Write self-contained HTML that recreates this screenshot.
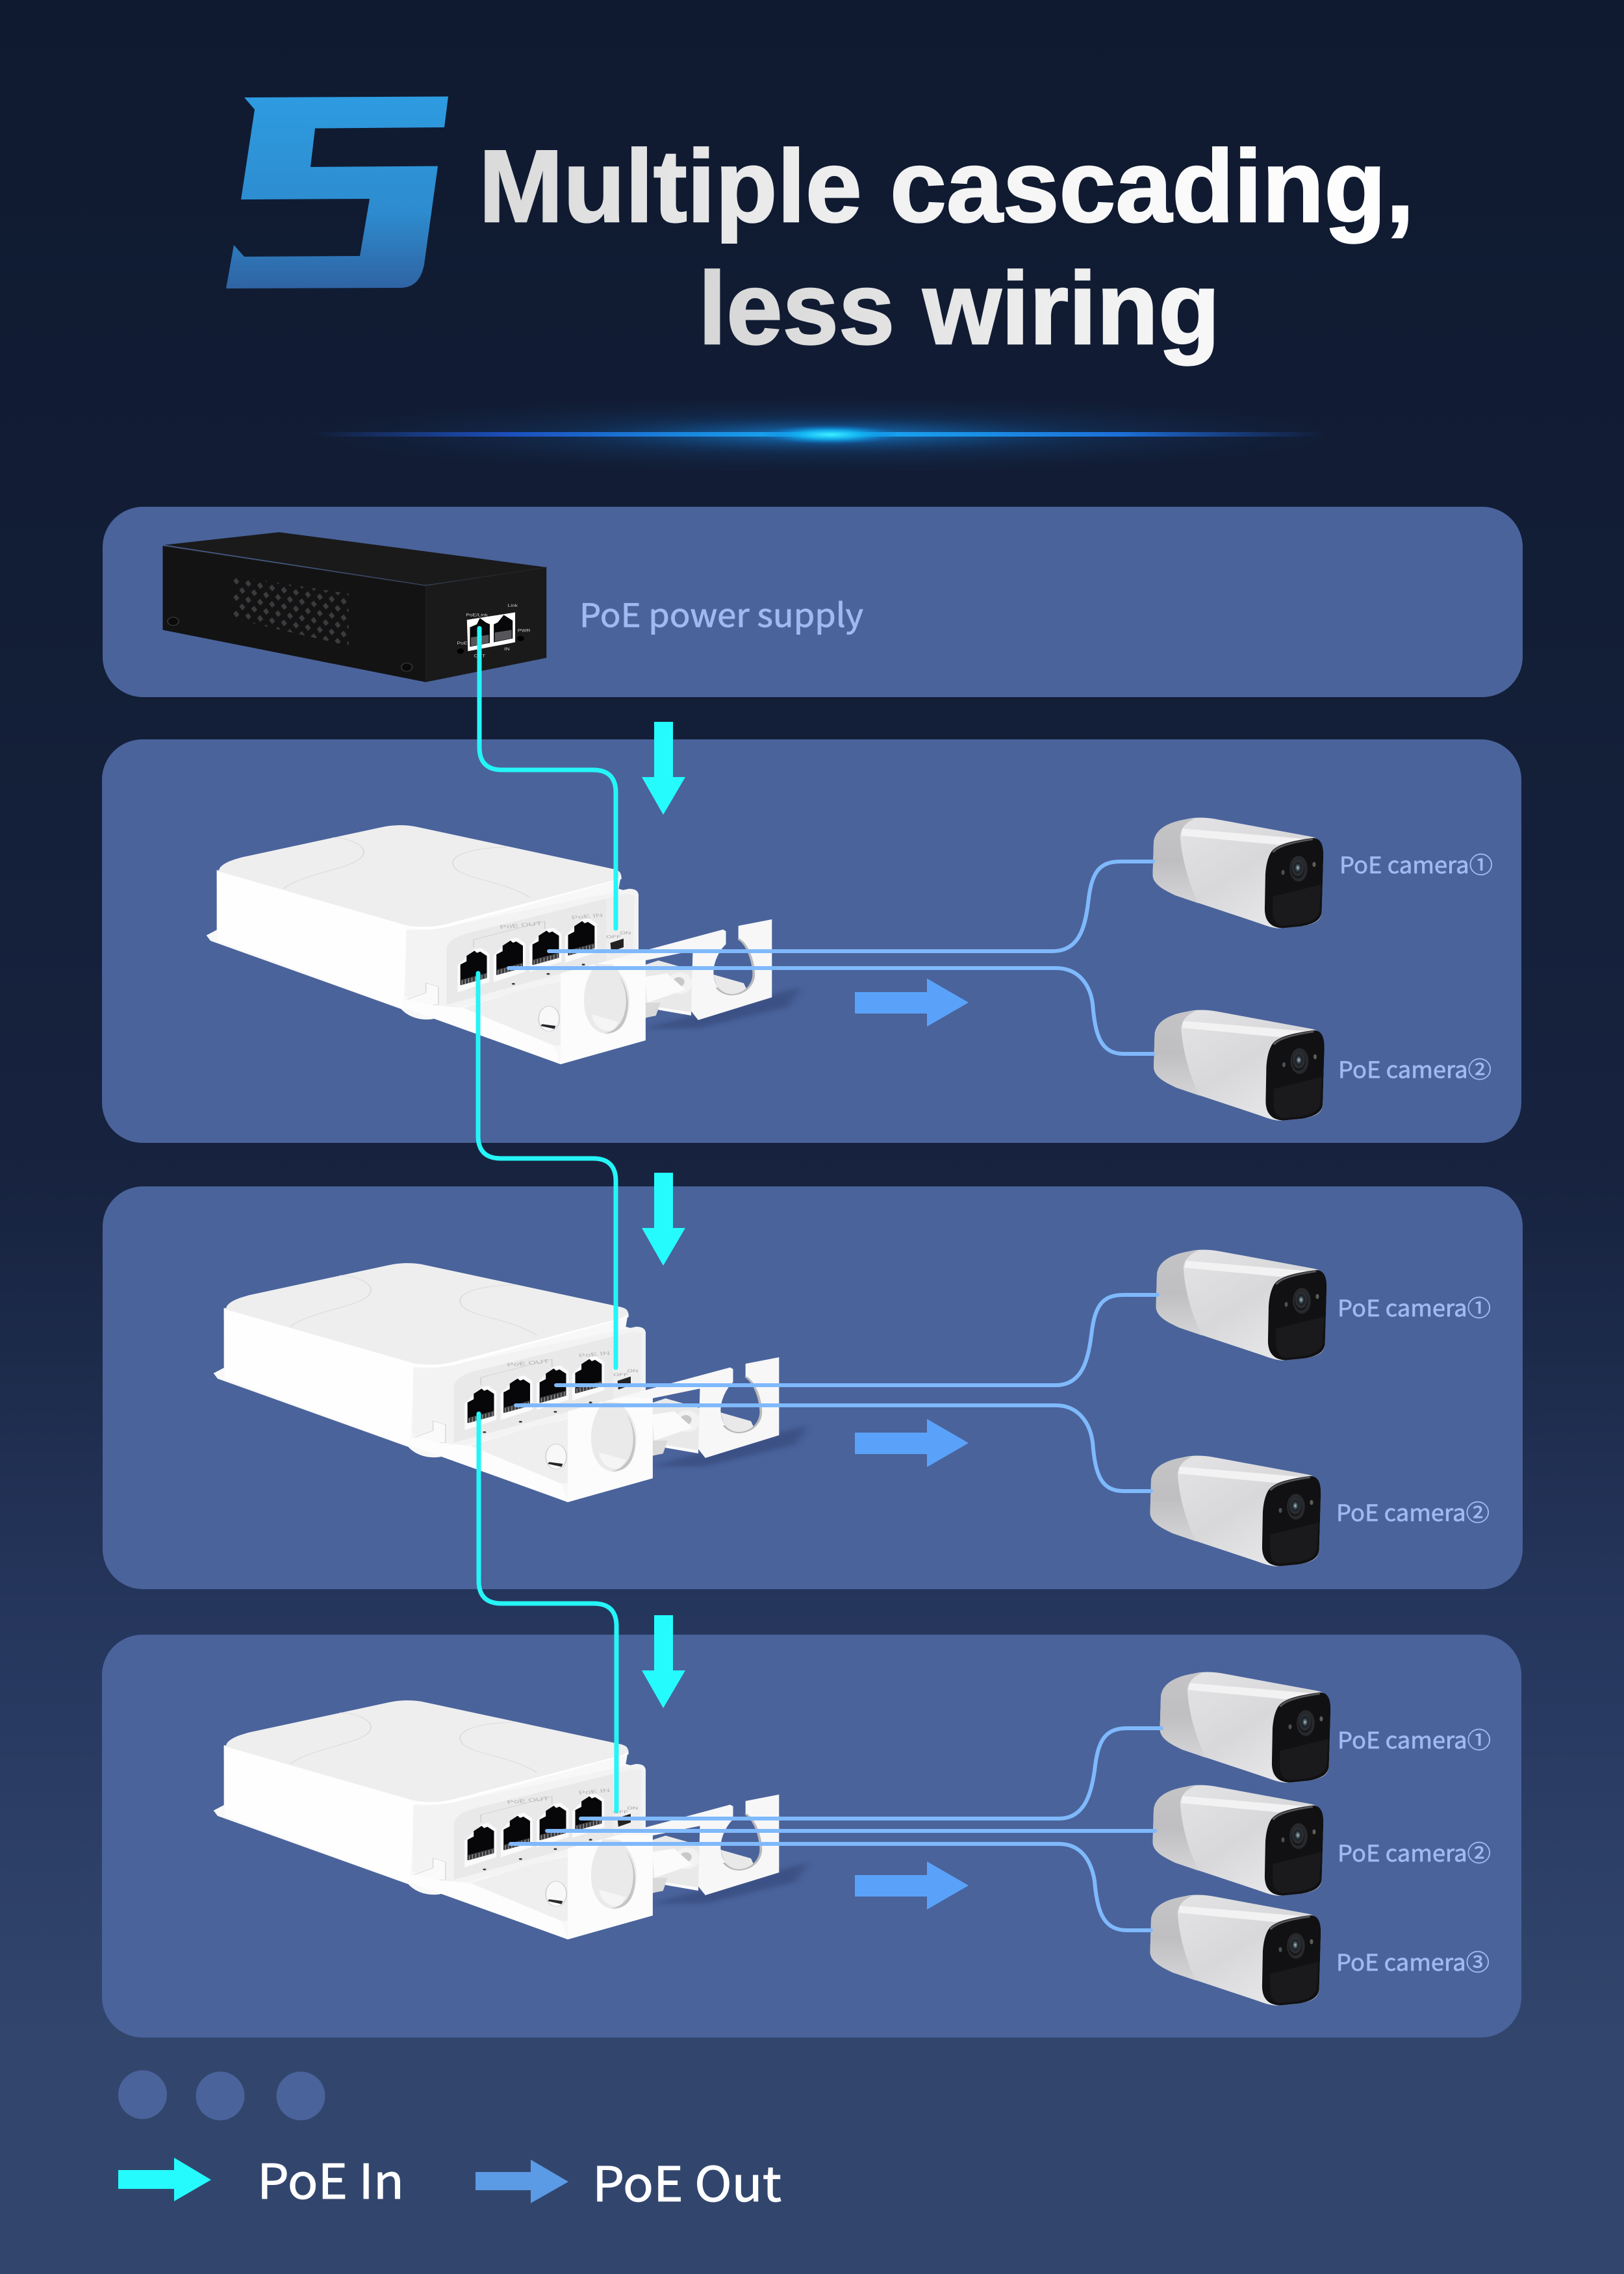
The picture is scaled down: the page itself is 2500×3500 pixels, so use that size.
<!DOCTYPE html>
<html><head><meta charset="utf-8">
<style>
html,body{margin:0;padding:0;background:#0f1a30}
svg{display:block}
.t{font-family:"Liberation Sans","Noto Sans CJK SC",sans-serif}
.n{font-family:"Noto Sans CJK SC","Liberation Sans",sans-serif}
</style></head>
<body>
<svg xmlns="http://www.w3.org/2000/svg" width="2500" height="3500" viewBox="0 0 2500 3500">
<defs>
<linearGradient id="bg" x1="0" y1="0" x2="0" y2="1">
<stop offset="0" stop-color="#0f1a30"/><stop offset=".3" stop-color="#131e37"/><stop offset=".52" stop-color="#17233f"/><stop offset=".72" stop-color="#26375e"/><stop offset=".9" stop-color="#32466d"/><stop offset="1" stop-color="#32466d"/>
</linearGradient>
<linearGradient id="five" x1="0" y1="0" x2="0" y2="1"><stop offset="0" stop-color="#2e9be0"/><stop offset=".6" stop-color="#2d8ccf"/><stop offset="1" stop-color="#2f63a3"/></linearGradient>
<linearGradient id="title" x1="0" y1="0" x2="1" y2="0"><stop offset="0" stop-color="#dadada"/><stop offset=".5" stop-color="#f4f4f4"/><stop offset="1" stop-color="#fff"/></linearGradient>
<linearGradient id="titleb" x1="0" y1="0" x2="1" y2="0"><stop offset="0" stop-color="#d6d6d6"/><stop offset="1" stop-color="#f8f8f8"/></linearGradient>
<radialGradient id="glow"><stop offset="0" stop-color="#1a9cf0" stop-opacity=".6"/><stop offset=".45" stop-color="#1468b8" stop-opacity=".28"/><stop offset="1" stop-color="#0f3060" stop-opacity="0"/></radialGradient>
<radialGradient id="core"><stop offset="0" stop-color="#3ff0ff"/><stop offset=".45" stop-color="#12b4f2" stop-opacity=".9"/><stop offset="1" stop-color="#0a6cc8" stop-opacity="0"/></radialGradient>
<linearGradient id="beam" x1="0" y1="0" x2="1" y2="0"><stop offset="0" stop-color="#1f4fb8" stop-opacity="0"/><stop offset=".2" stop-color="#1c50c0"/><stop offset=".5" stop-color="#18b0f5"/><stop offset=".8" stop-color="#1c70d8"/><stop offset="1" stop-color="#1f4fb8" stop-opacity="0"/></linearGradient>
<linearGradient id="camb" x1="0" y1="0" x2="1" y2="1"><stop offset="0" stop-color="#e6e6e8"/><stop offset=".5" stop-color="#d8d8da"/><stop offset="1" stop-color="#eeeef0"/></linearGradient>
<linearGradient id="camr" x1="0" y1="0" x2="0" y2="1"><stop offset="0" stop-color="#c4c4c6"/><stop offset=".5" stop-color="#bfbfc1"/><stop offset="1" stop-color="#d4d4d6"/></linearGradient>
<radialGradient id="lens" cx=".5" cy=".45"><stop offset="0" stop-color="#cfd8d0"/><stop offset=".18" stop-color="#5d7078"/><stop offset=".45" stop-color="#1a2028"/><stop offset=".8" stop-color="#2f3236"/><stop offset="1" stop-color="#111"/></radialGradient>
<pattern id="vent" width="24" height="44" patternUnits="userSpaceOnUse" patternTransform="translate(208,222) skewY(14)">
<polygon points="6,2 12,11 6,20 0,11" fill="#3c3c40"/><polygon points="18,24 24,33 18,42 12,33" fill="#3c3c40"/>
</pattern>
<filter id="bl" x="-30%" y="-30%" width="160%" height="160%"><feGaussianBlur stdDeviation="10"/></filter>

<g id="cam">
<path d="M345,250 C350,195 395,170 440,160 C470,150 500,152 530,158 L815,228 C845,235 855,255 857,300 L852,530 C850,570 830,580 790,590 L735,597 C710,600 690,590 665,578 L410,465 C370,440 345,420 342,385 Z" fill="url(#camb)"/>
<path d="M345,250 C350,195 395,170 440,160 C450,157 460,156 470,156 C445,170 428,190 425,225 C428,300 445,400 480,497 L410,465 C370,440 345,420 342,385 Z" fill="url(#camr)"/>
<path d="M432,197 L800,238 L720,262 L428,225 Z" fill="#f2f2f3"/>
<path d="M700,290 C712,268 745,248 825,235 C848,235 857,260 857,305 L852,530 C850,565 830,580 790,590 L735,597 C700,597 680,570 680,520 L682,380 C684,340 690,310 700,290 Z" fill="#111113"/>
<path d="M705,292 C716,272 750,254 825,240" fill="none" stroke="#55565a" stroke-width="7"/>
<path d="M704,470 L850,422 L845,530 C840,560 815,575 780,582 L735,588 C712,585 705,560 704,530 Z" fill="#1a1a1c"/>
<ellipse cx="782" cy="358" rx="27" ry="52" fill="#28292c"/>
<ellipse cx="780" cy="358" rx="20" ry="38" fill="url(#lens)"/>
<ellipse cx="735" cy="373" rx="5" ry="10" fill="#4c5052"/>
<ellipse cx="829" cy="341" rx="5" ry="10" fill="#5c5f55"/>
</g>

<g id="port">
<polygon points="-7,75 33,0 50,-8 70,20 70,150 -7,198" fill="#fafafa"/>
<path d="M0,70 L15,55 L15,30 L34,6 L40,16 L48,10 L64,30 L64,130 L0,165 Z" fill="#07070a"/>
<path d="M2,140 L64,108 L64,132 L2,165 Z" fill="#3a3a3c"/>
<path d="M4,142 V165 M12,138 V160 M20,134 V156 M28,130 V152 M36,126 V148 M44,122 V144 M52,118 V140 M60,114 V136" stroke="#9a9a9c" stroke-width="2" fill="none"/>
</g>

<g id="sw">
<path d="M1100,1110 L1400,960 L1480,920 L1450,1010 L1230,1110 Z" fill="#1c2c55" opacity=".3" filter="url(#bl)"/>
<path d="M45,680 L70,655 L70,385 L130,320 L470,180 L550,178 L1030,375 L1046,400 L1040,465 L1088,490 L1088,800 L1105,790 L1105,1165 L900,1275 L600,1062 C580,1075 540,1072 515,1020 L55,705 Z" fill="#f8f8f9"/>
<path d="M70,378 L530,628 L520,1020 L72,705 Z" fill="#fefefe"/>
<path d="M527,655 C560,660 600,655 625,640 L1065,465 C1080,465 1088,475 1088,495 L1085,790 L640,1020 L525,960 Z" fill="#f3f3f4"/>
<path d="M625,740 C630,700 650,685 680,668 L1010,510 L1010,800 L625,1000 Z" fill="#e9e9ea"/>
<path d="M1010,510 L1060,487 L1078,495 L1075,780 L1010,810 Z" fill="#eeeeef"/>
<path d="M525,980 L575,945 L575,900 L605,918 L605,1000 L525,1010 Z" fill="#fafafa" stroke="#c9c9cb" stroke-width="1.5"/>
<path d="M75,385 C75,355 100,335 130,320 L470,180 C500,168 530,170 550,178 L1030,375 C1050,385 1050,412 1030,425 L630,625 C600,640 570,645 530,635 Z" fill="#eeeeef"/>
<path d="M525,635 C570,648 600,640 630,625 L1030,425 C1042,417 1048,405 1046,395 L1047,420 L640,635 C600,655 565,655 525,647 Z" fill="#fff"/>
<path d="M230,465 C290,380 430,370 425,290 C420,255 385,230 350,228" fill="none" stroke="#d8d8da" stroke-width="2.5"/>
<path d="M825,505 C760,420 640,420 640,345 C640,300 700,275 770,272" fill="none" stroke="#d8d8da" stroke-width="2.5"/>
<path d="M690,735 V700 L862,615 V650" fill="none" stroke="#c0c0c2" stroke-width="1.5"/>
<text x="755" y="650" font-size="24" fill="#b4b4b6" class="t" transform="rotate(-10 755 650)">PoE OUT</text>
<text x="928" y="607" font-size="24" fill="#b4b4b6" class="t" transform="rotate(-10 928 607)">PoE IN</text>
<text x="1010" y="693" font-size="18" fill="#a4a4a6" class="t">OFF</text>
<text x="1043" y="675" font-size="18" fill="#a4a4a6" class="t">ON</text>
<use href="#port" transform="translate(658,745)"/>
<use href="#port" transform="translate(745,698)"/>
<use href="#port" transform="translate(832,652)"/>
<use href="#port" transform="translate(918,608)"/>
<circle cx="699" cy="952" r="4" fill="#333"/><circle cx="786" cy="904" r="4" fill="#333"/><circle cx="870" cy="858" r="4" fill="#333"/><circle cx="955" cy="815" r="4" fill="#333"/>
<path d="M1020,715 L1052,695 L1052,735 L1022,755 Z" fill="#222"/>

<!-- connector interior between plates -->
<polygon points="1104,816 1136,796 1219,841 1215,1045 1135,1011 1100,1071" fill="#e9e9ea"/>
<polygon points="1135,1011 1215,1035 1215,1050 1130,1022" fill="#fafafa"/>
<polygon points="1104,991 1141,991 1130,1051 1104,1061" fill="#d9d9da"/>
<ellipse cx="1188" cy="901" rx="30" ry="50" fill="#f2f2f3"/>
<ellipse cx="1185" cy="895" rx="14" ry="22" fill="#c8c8ca"/>
<polygon points="1104,871 1157,856 1201,931 1109,991" fill="#fbfbfb"/>

<!-- rear plate with keyhole -->
<path d="M1025,790 L1292,653 L1299,661 L1299,721 C1285,745 1269,800 1269,851 C1269,900 1285,954 1312,954 C1345,954 1368,905 1366,851 C1364,790 1350,720 1329,696 L1329,636 L1410,606 L1410,966 L1232,1071 L1215,1030 L1219,751 L1104,796 Z" fill="#f7f7f8"/>
<path d="M1269,861 L1342,901 L1348,925 C1335,950 1325,954 1312,954 C1290,954 1275,925 1269,861 Z" fill="#e9e9ea"/>
<path d="M1329,696 C1350,720 1364,790 1366,851 C1368,905 1345,954 1312,954 C1298,954 1285,940 1277,921" fill="none" stroke="#b9b9bb" stroke-width="6"/>

<!-- front bracket -->
<path d="M525,975 L600,1005 L665,1015 L885,1190 L900,1275 L515,1010 Z" fill="#fdfdfd"/>
<path d="M665,1015 L820,925 L1000,850 L1030,1180 L885,1190 Z" fill="#efeff0"/>
<ellipse cx="872" cy="1065" rx="25" ry="58" fill="#f8f8f8" stroke="#c8c8ca" stroke-width="2"/>
<path d="M855,1090 L888,1098 L885,1112 L852,1098 Z" fill="#26262a"/>
<path d="M900,855 L985,812 L1030,790 L1105,795 L1105,1165 L900,1275 Z" fill="#fcfcfc"/>
<path d="M985,812 C960,880 950,960 960,1040 C970,1100 985,1130 1012,1135 C1050,1130 1066,1060 1066,980 C1066,920 1050,860 1025,815 Z" fill="#eaeaeb"/>
<path d="M975,1045 L1040,1080 L1028,1118 C1000,1130 980,1100 975,1045 Z" fill="#f5f5f6"/>
<path d="M1042,870 C1065,930 1068,1010 1055,1075 C1045,1120 1025,1135 1005,1133 C1040,1120 1058,1060 1058,980 C1058,930 1050,900 1042,870 Z" fill="#c4c4c6"/>
</g>

<g id="psu">
<polygon points="70,137 300,103 838,197 595,245" fill="#1a1a1b"/>
<polygon points="66,140 595,247 595,505 66,365" fill="#131314"/>
<polygon points="595,247 838,197 838,440 595,505" fill="#1a1a1b"/>
<path d="M66,140 L595,247 L838,197" fill="none" stroke="#262628" stroke-width="2"/>
<polygon points="208,220 440,268 440,408 208,335" fill="url(#vent)"/>
<circle cx="87" cy="342" r="11" fill="#0a0a0a" stroke="#3a3a3c" stroke-width="2"/>
<circle cx="557" cy="465" r="11" fill="#0a0a0a" stroke="#3a3a3c" stroke-width="2"/>
<polygon points="678,338 775,318 775,398 680,422" fill="#fff"/>
<path d="M684,358 L698,350 L704,333 L716,345 L724,350 L724,400 L684,410 Z" fill="#08080a"/>
<path d="M732,350 L740,345 L752,325 L764,335 L770,340 L770,388 L732,398 Z" fill="#08080a"/>
<path d="M686,385 L722,378 V400 L686,408 Z M734,372 L768,365 V388 L734,396 Z" fill="#55555a"/>
<circle cx="665" cy="422" r="7" fill="#000"/><circle cx="786" cy="388" r="7" fill="#000"/>
<text x="676" y="328" font-size="11" fill="#ccc" class="t">PoE/Link</text>
<text x="760" y="303" font-size="11" fill="#ccc" class="t">Link</text>
<text x="780" y="370" font-size="11" fill="#ccc" class="t">PWR</text>
<text x="658" y="404" font-size="11" fill="#ccc" class="t">PoE</text>
<text x="692" y="438" font-size="11" fill="#ccc" class="t">OUT</text>
<text x="753" y="420" font-size="11" fill="#ccc" class="t">IN</text>
</g>
</defs>

<rect width="2500" height="3500" fill="url(#bg)"/>

<!-- "5" numeral -->
<path d="M376,150 L690,148.5 L684,196 L485,197.5 L478,257 L674,255.6 L653,407 C648,432 636,443 616,443 L348,444 L360,377 L376,395 L554,394 L569,306 L371,307 L392,168.5 Z" fill="url(#five)"/>

<text x="737" y="341" class="t" font-weight="700" font-size="158" fill="url(#title)" stroke="url(#title)" stroke-width="2.5" textLength="1440" lengthAdjust="spacingAndGlyphs">Multiple cascading,</text>
<text x="1075" y="529" class="t" font-weight="700" font-size="158" fill="url(#titleb)" stroke="url(#titleb)" stroke-width="2.5" textLength="803" lengthAdjust="spacingAndGlyphs">less wiring</text>

<!-- flare -->
<ellipse cx="1275" cy="669" rx="800" ry="58" fill="url(#glow)" opacity=".75"/>
<ellipse cx="1275" cy="669" rx="420" ry="30" fill="url(#glow)"/>
<rect x="480" y="665" width="1560" height="7" fill="url(#beam)"/>
<ellipse cx="1278" cy="669" rx="105" ry="15" fill="url(#core)"/>

<!-- panels -->
<rect x="158" y="780" width="2186" height="293" rx="62" fill="#4a639b"/>
<rect x="157" y="1138" width="2185" height="621" rx="62" fill="#4a639b"/>
<rect x="158" y="1826" width="2186" height="620" rx="62" fill="#4a639b"/>
<rect x="157" y="2516" width="2185" height="620" rx="62" fill="#4a639b"/>

<use href="#psu" transform="translate(200,760) scale(.7652,.574)"/>
<text x="892" y="965" class="n" font-size="50" fill="#9fb9f2" stroke="#9fb9f2" stroke-width=".8" textLength="437" lengthAdjust="spacingAndGlyphs">PoE power supply</text>

<!-- switches -->
<use href="#sw" transform="translate(289,1213) scale(.6378,.3333)"/>
<use href="#sw" transform="translate(300,1887) scale(.6378,.3333)"/>
<use href="#sw" transform="translate(300,2560) scale(.6378,.3333)"/>

<!-- cameras -->
<use href="#cam" transform="translate(1600,1200) scale(.5102,.3827)"/>
<use href="#cam" transform="translate(1601.5,1496) scale(.5102,.3827)"/>
<use href="#cam" transform="translate(1605,1865) scale(.5102,.3827)"/>
<use href="#cam" transform="translate(1596,2182) scale(.5102,.3827)"/>
<use href="#cam" transform="translate(1611,2515) scale(.5102,.3827)"/>
<use href="#cam" transform="translate(1600,2689) scale(.5102,.3827)"/>
<use href="#cam" transform="translate(1596,2858) scale(.5102,.3827)"/>

<!-- PoE out lines -->
<g fill="none" stroke="#7fb9fc" stroke-width="6" stroke-linecap="round">
<path d="M845,1464 H1620 C1660,1464 1670,1430 1675,1390 C1680,1345 1690,1326 1725,1326 H1775"/>
<path d="M783,1490 H1625 C1660,1490 1678,1515 1682,1545 C1686,1595 1695,1622 1730,1622 H1775"/>
<path d="M856,2132 H1625 C1665,2132 1675,2095 1680,2055 C1685,2012 1695,1993 1730,1993 H1782"/>
<path d="M794,2163 H1625 C1660,2163 1678,2190 1682,2220 C1686,2270 1695,2295 1730,2295 H1772"/>
<path d="M894,2799 H1630 C1670,2799 1680,2760 1685,2725 C1690,2680 1700,2660 1735,2660 H1788"/>
<path d="M842,2818 H1778"/>
<path d="M786,2838 H1630 C1665,2838 1680,2865 1685,2895 C1689,2945 1700,2971 1735,2971 H1772"/>
</g>

<!-- PoE in lines -->
<g fill="none" stroke="#25f5f7" stroke-width="7" stroke-linecap="round">
<path d="M738,967 V1150 Q738,1185 773,1185 H913 Q948,1185 948,1220 V1429"/>
<path d="M736,1498 V1748 Q736,1783 771,1783 H913 Q948,1783 948,1818 V2105"/>
<path d="M737,2176 V2433 Q737,2468 772,2468 H914 Q949,2468 949,2503 V2787"/>
</g>

<!-- down arrows -->
<g fill="#25fbfd">
<polygon points="1007,1111 1036,1111 1036,1196 1055,1196 1021,1254 988,1196 1007,1196"/>
<polygon points="1007,1805 1036,1805 1036,1890 1055,1890 1021,1948 988,1890 1007,1890"/>
<polygon points="1007,2486 1036,2486 1036,2571 1055,2571 1021,2629 988,2571 1007,2571"/>
</g>

<!-- right arrows -->
<g fill="#5aa2f9">
<polygon points="1316,1527 1427,1527 1427,1506 1491,1543 1427,1580 1427,1560 1316,1560"/>
<polygon points="1316,2205 1427,2205 1427,2184 1491,2221 1427,2258 1427,2238 1316,2238"/>
<polygon points="1316,2886 1427,2886 1427,2865 1491,2902 1427,2939 1427,2919 1316,2919"/>
</g>

<!-- camera labels -->
<g class="n" font-size="35" fill="#9fb9f2" stroke="#9fb9f2" stroke-width=".7">
<text x="2062" y="1344" textLength="236" lengthAdjust="spacingAndGlyphs">PoE camera①</text>
<text x="2060" y="1659" textLength="236" lengthAdjust="spacingAndGlyphs">PoE camera②</text>
<text x="2059" y="2026" textLength="236" lengthAdjust="spacingAndGlyphs">PoE camera①</text>
<text x="2057" y="2341" textLength="236" lengthAdjust="spacingAndGlyphs">PoE camera②</text>
<text x="2059" y="2691" textLength="236" lengthAdjust="spacingAndGlyphs">PoE camera①</text>
<text x="2059" y="2865" textLength="236" lengthAdjust="spacingAndGlyphs">PoE camera②</text>
<text x="2057" y="3033" textLength="236" lengthAdjust="spacingAndGlyphs">PoE camera③</text>
</g>

<!-- dots -->
<g fill="#4a639b">
<circle cx="219.5" cy="3224" r="37.5"/><circle cx="339" cy="3226" r="37.5"/><circle cx="463" cy="3226" r="37.5"/>
</g>

<!-- legend -->
<polygon points="182,3340 268,3340 268,3321 325,3355 268,3388 268,3369 182,3369" fill="#25fbfd"/>
<polygon points="732,3343 817,3343 817,3324 875,3358 817,3391 817,3371 732,3371" fill="#5b9ae5"/>
<text x="396" y="3384" class="n" font-size="74" fill="#fff" stroke="#fff" stroke-width="1" textLength="226" lengthAdjust="spacingAndGlyphs">PoE In</text>
<text x="912" y="3388" class="n" font-size="74" fill="#fff" stroke="#fff" stroke-width="1" textLength="291" lengthAdjust="spacingAndGlyphs">PoE Out</text>
</svg>
</body></html>
